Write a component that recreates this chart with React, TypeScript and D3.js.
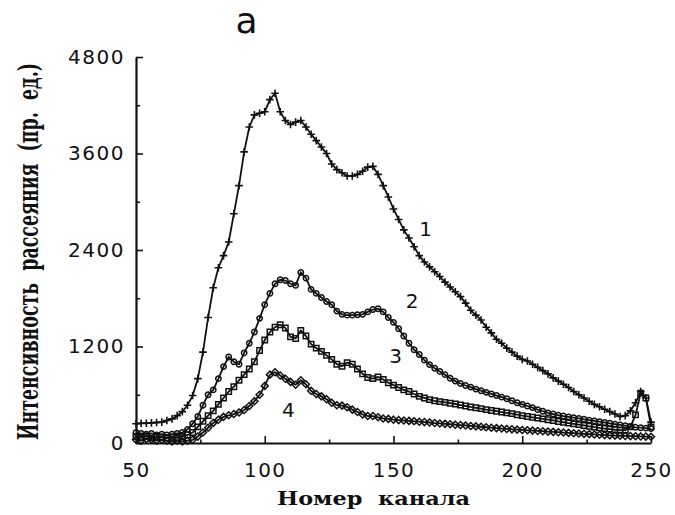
import { useEffect, useRef } from "react";
import * as d3 from "d3";

const WIDTH = 675;
const HEIGHT = 515;

// channel numbers, every second channel from 50 to 250
const channels = d3.range(50, 251, 2);

// curve 1 (+)
const curve1 = [
  240, 245, 245, 250, 255, 260, 280, 300, 340, 390,
  470, 590, 800, 1130, 1560, 1930, 2180, 2330, 2500, 2850,
  3200, 3620, 3930, 4080, 4100, 4120, 4270, 4350, 4120, 4010,
  3960, 3990, 4010, 3930, 3840, 3760, 3680, 3600, 3470, 3400,
  3360, 3320, 3320, 3340, 3380, 3430, 3440, 3340, 3200, 3060,
  2910, 2780, 2650, 2550, 2440, 2330, 2250, 2190, 2130, 2070,
  2000, 1940, 1880, 1820, 1740, 1650, 1590, 1530, 1440, 1370,
  1290, 1240, 1180, 1130, 1080, 1040, 1020, 980, 940, 900,
  860, 810, 770, 730, 690, 640, 600, 560, 520, 480,
  450, 420, 390, 360, 330, 340, 400, 500, 640, 560,
  260,
];

// curve 2 (circles)
const curve2 = [
  130, 120, 110, 120, 100, 110, 100, 110, 120, 130,
  170, 240, 330, 470, 600, 660, 800, 950, 1070, 1010,
  980, 1120, 1240, 1380, 1550, 1720, 1860, 1980, 2030, 2020,
  1980, 1960, 2120, 2050, 1910, 1860, 1810, 1760, 1720, 1640,
  1600, 1590, 1590, 1595, 1600, 1630, 1660, 1670, 1630, 1560,
  1500, 1420, 1330, 1240, 1160, 1100, 1030, 975, 930, 890,
  850, 805, 770, 740, 715, 695, 670, 650, 630, 610,
  590, 570, 550, 525, 500, 480, 460, 440, 415, 395,
  375, 360, 345, 335, 325, 315, 305, 295, 285, 275,
  265, 255, 245, 235, 225, 215, 205, 195, 190, 185,
  180,
];

// curve 3 (squares)
const curve3 = [
  80, 70, 90, 60, 80, 70, 60, 70, 70, 80,
  100, 130, 200, 270, 340, 400, 480, 560, 640, 700,
  780, 850, 920, 1010, 1150, 1280, 1380, 1440, 1470, 1430,
  1320, 1300, 1400, 1330, 1230, 1180, 1140, 1090, 1040, 980,
  955, 1000, 980, 920, 860, 815, 800, 820, 790, 750,
  720, 690, 660, 640, 610, 580, 560, 540, 525, 515,
  505, 495, 485, 472, 460, 448, 438, 428, 415, 405,
  395, 385, 375, 365, 352, 340, 330, 320, 310, 300,
  290, 280, 268, 258, 248, 238, 228, 218, 208, 198,
  188, 180, 172, 165, 160, 160, 200, 350, 620, 560,
  200,
];

// curve 4 (diamonds)
const curve4 = [
  40, 30, 50, 40, 30, 40, 30, 20, 30, 20,
  30, 40, 80, 130, 190, 250, 290, 325, 345, 360,
  380, 410, 460, 520, 600, 710, 850, 880, 840, 800,
  760, 725, 780, 730, 650, 610, 580, 545, 500, 470,
  465, 445, 415, 385, 355, 335, 335, 320, 305, 300,
  290, 285, 280, 275, 270, 265, 260, 255, 248, 243,
  238, 233, 228, 223, 218, 212, 207, 202, 196, 190,
  185, 180, 175, 170, 166, 162, 158, 154, 150, 146,
  142, 138, 134, 130, 126, 122, 118, 114, 110, 106,
  102, 98, 95, 92, 90, 88, 86, 84, 82, 80,
  78,
];

const yMajorTicks = [0, 1200, 2400, 3600, 4800];
const yMinorTicks = [600, 1800, 3000, 4200];
const xMajorTicks = [50, 100, 150, 200, 250];
const xMinorTicks = [75, 125, 175, 225];

const curveLabels = [
  { text: "1", channel: 162.5, value: 2580 },
  { text: "2", channel: 157.2, value: 1680 },
  { text: "3", channel: 150.8, value: 995 },
  { text: "4", channel: 109.2, value: 323 },
];

const seriesList = [
  { name: "4", values: curve4, marker: "diamond" },
  { name: "3", values: curve3, marker: "square" },
  { name: "2", values: curve2, marker: "circle" },
  { name: "1", values: curve1, marker: "plus" },
];

const markerPath: Record<string, string> = {
  plus: "M-3.8,0H3.8M0,-3.8V3.8",
  circle: "M2.7,0A2.7,2.7 0 1 1 -2.7,0A2.7,2.7 0 1 1 2.7,0Z",
  square: "M-2.7,-2.7H2.7V2.7H-2.7Z",
  diamond: "M0,-3.5L3.5,0L0,3.5L-3.5,0Z",
};

export default function App() {
  const svgRef = useRef<SVGSVGElement>(null);

  useEffect(() => {
    if (!svgRef.current) return;
    const ink = "#111";
    const x = d3.scaleLinear().domain([50, 250]).range([136, 651]);
    const y = d3.scaleLinear().domain([0, 4800]).range([443, 57]);

    const svg = d3.select(svgRef.current);
    svg.selectAll("*").remove();
    svg.append("rect").attr("width", WIDTH).attr("height", HEIGHT).attr("fill", "#fff");

    // curves
    const line = d3
      .line<number>()
      .x((_, i) => x(channels[i]))
      .y((v) => y(v));

    seriesList.forEach((series) => {
      const g = svg.append("g");
      g.append("path")
        .datum(series.values)
        .attr("d", line)
        .attr("fill", "none")
        .attr("stroke", ink)
        .attr("stroke-width", 1.8);
      g.selectAll("path.marker")
        .data(series.values)
        .join("path")
        .attr("class", "marker")
        .attr("transform", (v, i) => `translate(${x(channels[i])},${y(v)})`)
        .attr("d", markerPath[series.marker])
        .attr("fill", "none")
        .attr("stroke", ink)
        .attr("stroke-width", series.marker === "plus" ? 1.6 : 1.5);
    });

    const styleAxis = (group) => {
      group.select(".domain").attr("stroke", ink).attr("stroke-width", 2.2);
      group.selectAll("line").attr("stroke", ink).attr("stroke-width", 1.6);
      group
        .selectAll("text")
        .attr("fill", ink)
        .attr("font-family", "DejaVu Sans, sans-serif")
        .attr("font-size", 20)
        .attr("letter-spacing", 1.5);
    };

    // y axis
    svg
      .append("g")
      .attr("transform", `translate(${x(50)},0)`)
      .call(d3.axisLeft(y).tickValues(yMinorTicks).tickSize(-4).tickSizeOuter(0).tickFormat(() => ""))
      .call((g) => g.select(".domain").remove())
      .call((g) => g.selectAll("line").attr("stroke", ink).attr("stroke-width", 1.6));
    svg
      .append("g")
      .attr("transform", `translate(${x(50)},0)`)
      .call(d3.axisLeft(y).tickValues(yMajorTicks).tickSize(-7).tickSizeOuter(0).tickPadding(11).tickFormat(d3.format("d")))
      .call(styleAxis);

    // x axis
    svg
      .append("g")
      .attr("transform", `translate(0,${y(0)})`)
      .call(d3.axisBottom(x).tickValues(xMinorTicks).tickSize(-3.5).tickSizeOuter(0).tickFormat(() => ""))
      .call((g) => g.select(".domain").remove())
      .call((g) => g.selectAll("line").attr("stroke", ink).attr("stroke-width", 1.6));
    svg
      .append("g")
      .attr("transform", `translate(0,${y(0)})`)
      .call(d3.axisBottom(x).tickValues(xMajorTicks).tickSize(-7).tickSizeOuter(0).tickPadding(19.5).tickFormat(d3.format("d")))
      .call(styleAxis);

    // curve numbers
    svg
      .append("g")
      .selectAll("text")
      .data(curveLabels)
      .join("text")
      .attr("x", (d) => x(d.channel))
      .attr("y", (d) => y(d.value))
      .attr("text-anchor", "middle")
      .attr("font-family", "DejaVu Sans, sans-serif")
      .attr("font-size", 20)
      .attr("fill", ink)
      .text((d) => d.text);

    // panel letter
    svg
      .append("text")
      .attr("x", 246.5)
      .attr("y", 33)
      .attr("text-anchor", "middle")
      .attr("font-family", "DejaVu Sans, sans-serif")
      .attr("font-size", 36)
      .attr("fill", ink)
      .text("a");

    // axis titles (scan is stretched sideways, so glyphs are widened)
    svg
      .append("text")
      .attr("transform", "translate(38,251.5) scale(1.45,1) rotate(-90)")
      .attr("text-anchor", "middle")
      .attr("font-family", "DejaVu Serif, serif")
      .attr("font-weight", "bold")
      .attr("font-size", 19)
      .attr("textLength", 377)
      .attr("lengthAdjust", "spacingAndGlyphs")
      .style("white-space", "pre")
      .attr("fill", ink)
      .text("Интенсивность  рассеяния  (пр.  ед.)");

    svg
      .append("text")
      .attr("x", 373.5)
      .attr("y", 505)
      .attr("text-anchor", "middle")
      .attr("font-family", "DejaVu Serif, serif")
      .attr("font-weight", "bold")
      .attr("font-size", 18.5)
      .attr("textLength", 193)
      .attr("lengthAdjust", "spacingAndGlyphs")
      .style("white-space", "pre")
      .attr("fill", ink)
      .text("Номер  канала");
  }, []);

  return (
    <svg
      ref={svgRef}
      width={WIDTH}
      height={HEIGHT}
      style={{ position: "absolute", left: 0, top: 0, display: "block" }}
    />
  );
}
